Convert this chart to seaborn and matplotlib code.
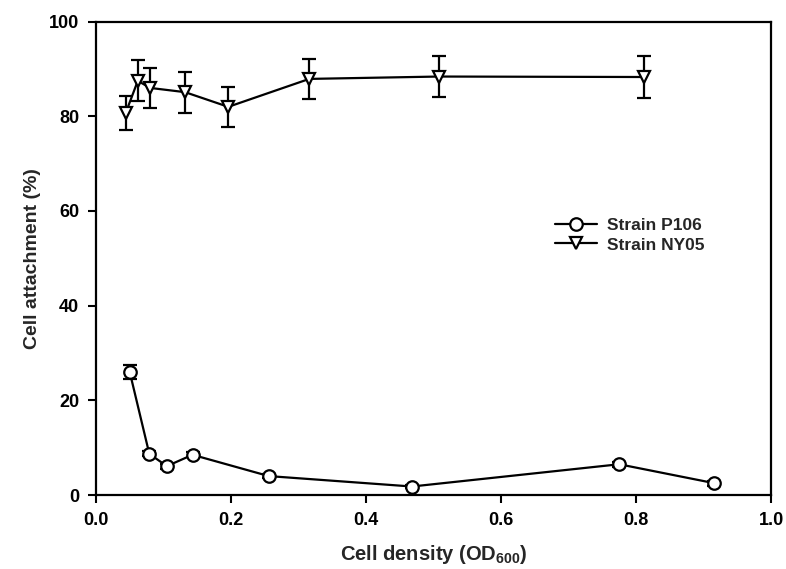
import matplotlib
matplotlib.use("Agg")
import matplotlib.pyplot as plt
import seaborn as sns
import pandas as pd

# Data
p106_x = [0.050, 0.079, 0.105, 0.143, 0.256, 0.468, 0.775, 0.916]
p106_y = [26.0, 8.7, 6.1, 8.5, 4.0, 1.8, 6.5, 2.5]
p106_err = [1.4, 0.5, 0.5, 0.5, 0.5, 0.4, 0.5, 0.5]

ny05_x = [0.044, 0.062, 0.080, 0.132, 0.196, 0.316, 0.508, 0.812]
ny05_y = [80.7, 87.5, 86.0, 85.1, 82.0, 87.9, 88.4, 88.3]
ny05_err = [3.5, 4.3, 4.3, 4.3, 4.2, 4.2, 4.4, 4.4]

x_ticks = [0.0, 0.2, 0.4, 0.6, 0.8, 1.0]
y_ticks = [0, 20, 40, 60, 80, 100]

sns.set_theme(style="ticks")
plt.rcParams['font.family'] = ['Liberation Sans', 'DejaVu Sans']
plt.rcParams['mathtext.fontset'] = 'custom'
plt.rcParams['mathtext.rm'] = 'Liberation Sans'
plt.rcParams['mathtext.bf'] = 'Liberation Sans:bold'

df = pd.DataFrame({
    "x": p106_x + ny05_x,
    "y": p106_y + ny05_y,
    "strain": ["Strain P106"] * len(p106_x) + ["Strain NY05"] * len(ny05_x),
})

fig = plt.figure(figsize=(7.86, 5.69), dpi=100)
ax = fig.add_axes([0.1221, 0.130, 0.8589, 0.832])

# error bars
ax.errorbar(p106_x, p106_y, yerr=p106_err, fmt="none", ecolor="black",
            elinewidth=1.6, capsize=5, capthick=1.6, zorder=2)
ax.errorbar(ny05_x, ny05_y, yerr=ny05_err, fmt="none", ecolor="black",
            elinewidth=1.6, capsize=5, capthick=1.6, zorder=2)

sns.lineplot(data=df, x="x", y="y", hue="strain", style="strain",
             palette={"Strain P106": "black", "Strain NY05": "black"},
             markers={"Strain P106": "o", "Strain NY05": "v"},
             dashes=False, sort=False, linewidth=1.6, markersize=9,
             markerfacecolor="white", markeredgecolor="black",
             markeredgewidth=1.6, ax=ax, zorder=3, legend=True)

ax.set_xlim(0, 1.0)
ax.set_ylim(0, 100)
ax.set_xticks(x_ticks)
ax.set_xticklabels([f"{v:.1f}" for v in x_ticks])
ax.set_yticks(y_ticks)
ax.set_yticklabels([str(v) for v in y_ticks])

for s in ax.spines.values():
    s.set_linewidth(1.6)
    s.set_color("black")
ax.tick_params(axis="both", direction="out", length=6, width=1.5,
               labelsize=13, colors="black", pad=6)
for lab in ax.get_xticklabels() + ax.get_yticklabels():
    lab.set_fontweight("bold")

ax.set_xlabel(r"Cell density (OD$_{\mathbf{600}}$)", fontsize=14.5, fontweight="bold", labelpad=10)
ax.set_ylabel("Cell attachment (%)", fontsize=14, fontweight="bold", labelpad=6)

leg = ax.legend(loc="upper left", bbox_to_anchor=(0.67, 0.60), frameon=False,
                fontsize=12.5, handlelength=2.4, handletextpad=0.6,
                labelspacing=0.25, borderaxespad=0)
for t in leg.get_texts():
    t.set_fontweight("bold")

fig.savefig("out.png", dpi=100)
